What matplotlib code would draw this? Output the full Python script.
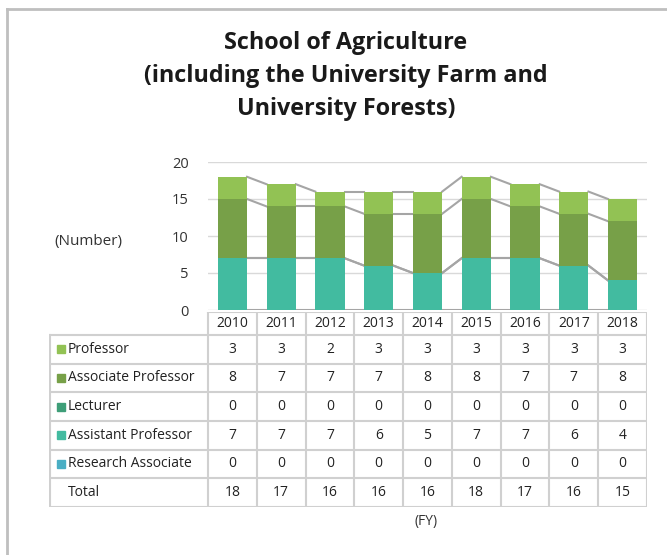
import numpy as np
import matplotlib.pyplot as plt
from matplotlib.patches import Rectangle
from matplotlib.lines import Line2D

years = ["2010", "2011", "2012", "2013", "2014", "2015", "2016", "2017", "2018"]
professor = [3, 3, 2, 3, 3, 3, 3, 3, 3]
assoc_prof = [8, 7, 7, 7, 8, 8, 7, 7, 8]
lecturer = [0, 0, 0, 0, 0, 0, 0, 0, 0]
asst_prof = [7, 7, 7, 6, 5, 7, 7, 6, 4]
research = [0, 0, 0, 0, 0, 0, 0, 0, 0]

names = ["Professor", "Associate Professor", "Lecturer", "Assistant Professor", "Research Associate"]
colors = ["#92C254", "#77A048", "#3E9E78", "#42BBA0", "#4AAEC4"]

plt.rcParams['font.family'] = ['Open Sans', 'DejaVu Sans']

W, H = 667, 555
fig = plt.figure(figsize=(W / 100, H / 100), dpi=100)

def fx(px):
    return px / W

def fy(py):
    return 1 - py / H

# frame (only top/left visible)
fig.add_artist(Line2D([fx(7), fx(7)], [fy(9), fy(560)], color="#BFBFBF", lw=2))
fig.add_artist(Line2D([fx(7), fx(670)], [fy(9), fy(9)], color="#BFBFBF", lw=2))

fig.text(fx(346), fy(76), "School of Agriculture\n(including the University Farm and\nUniversity Forests)",
         ha="center", va="center", fontsize=16.8, fontweight="bold", linespacing=1.48, color="#1a1a1a")

# chart area
ax = fig.add_axes([fx(208), fy(310), fx(647) - fx(208), fy(162) - fy(310)])
x = np.arange(len(years))
stack = [research, asst_prof, lecturer, assoc_prof, professor]
stack_colors = colors[::-1]
bottom = np.zeros(len(years))
bw = 0.6
levels = []
for vals, c in zip(stack, stack_colors):
    ax.bar(x, vals, bw, bottom=bottom, color=c, zorder=3)
    bottom = bottom + np.array(vals)
    levels.append(bottom.copy())

# series lines
for lev in levels:
    for i in range(len(years) - 1):
        ax.plot([x[i] + bw / 2, x[i + 1] - bw / 2], [lev[i], lev[i + 1]], color="#A5A5A5", lw=1.5, zorder=2)

ax.set_xlim(-0.5, len(years) - 0.5)
ax.set_ylim(0, 20)
ax.set_yticks([0, 5, 10, 15, 20])
ax.set_xticks([])
ax.grid(axis="y", color="#D9D9D9", lw=1, zorder=0)
ax.tick_params(axis="y", length=0, labelsize=10.5, colors="#333333", pad=14)
for s in ax.spines.values():
    s.set_visible(False)
ax.set_facecolor("none")

fig.text(fx(88), fy(241), "(Number)", ha="center", va="center", fontsize=11, color="#333333")

# data table
col_w = (647 - 208) / len(years)
tab = fig.add_axes([fx(49), fy(507), fx(647) - fx(49), fy(312) - fy(507)])
tab.set_xlim(49, 647)
tab.set_ylim(507, 312)
tab.axis("off")

grid_c = "#D0D0D0"
row_top = 335
row_h = (507 - 335) / 6
rows = [professor, assoc_prof, lecturer, asst_prof, research]
totals = [sum(v) for v in zip(*rows)]
fs = 10

# header row
tab.plot([208, 647], [312, 312], color=grid_c, lw=1.5)
for i in range(len(years) + 1):
    xx = 208 + i * col_w
    tab.plot([xx, xx], [312, 507], color=grid_c, lw=1.5)
for i, yr in enumerate(years):
    tab.text(208 + (i + 0.5) * col_w, (312 + row_top) / 2, yr, ha="center", va="center",
             fontsize=fs, color="#222222")

tab.plot([50, 50], [row_top, 507], color=grid_c, lw=1.5)
for r in range(7):
    yy = row_top + r * row_h
    tab.plot([50, 647], [yy, yy], color=grid_c, lw=1.5)

labels = names + ["Total"]
values = rows + [totals]
for r, (lab, vals) in enumerate(zip(labels, values)):
    yc = row_top + (r + 0.5) * row_h
    if r < len(names):
        tab.add_patch(Rectangle((57, yc - 4), 8, 8, color=colors[r]))
        tab.text(68, yc, lab, ha="left", va="center", fontsize=fs, color="#222222")
    else:
        tab.text(68, yc, lab, ha="left", va="center", fontsize=fs, color="#222222")
    for i, v in enumerate(vals):
        tab.text(208 + (i + 0.5) * col_w, yc, str(v), ha="center", va="center",
                 fontsize=fs, color="#222222")

fig.text(fx(426), fy(521), "(FY)", ha="center", va="center", fontsize=10, color="#333333")

fig.savefig("out.png", dpi=100)
